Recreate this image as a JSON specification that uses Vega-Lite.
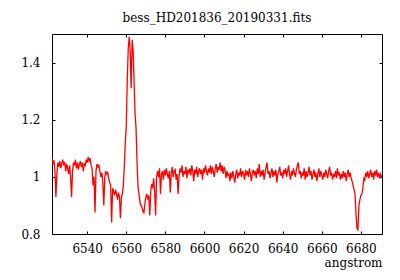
{
  "$schema": "https://vega.github.io/schema/vega-lite/v6.json",
  "width": 330,
  "height": 200,
  "autosize": {"type": "none"},
  "padding": {"left": 52, "top": 34, "right": 18, "bottom": 46},
  "background": "white",
  "title": {"text": "bess_HD201836_20190331.fits", "font": "DejaVu Serif", "fontSize": 12, "fontWeight": "normal", "color": "black", "offset": 9},
  "config": {
    "view": {"stroke": "black", "strokeWidth": 1},
    "axis": {"domain": false, "grid": false, "tickColor": "black", "tickSize": -3, "labelFont": "DejaVu Serif", "labelFontSize": 12, "labelColor": "black", "titleFont": "DejaVu Serif", "titleFontSize": 12, "titleFontWeight": "normal", "titleColor": "black"}
  },
  "data": {"values": [
    {"w":6522.0,"f":1.065},{"w":6522.5,"f":1.045},{"w":6523.0,"f":1.058},{"w":6523.5,"f":1.02},{"w":6524.0,"f":0.93},{"w":6524.5,"f":1.01},{"w":6525.0,"f":1.05},{"w":6525.5,"f":1.035},{"w":6526.0,"f":1.055},{"w":6526.5,"f":1.03},
    {"w":6527.0,"f":1.048},{"w":6527.5,"f":1.06},{"w":6528.0,"f":1.04},{"w":6528.5,"f":1.052},{"w":6529.0,"f":1.02},{"w":6529.5,"f":1.045},{"w":6530.0,"f":1.03},{"w":6530.5,"f":1.01},{"w":6531.0,"f":1.04},{"w":6531.5,"f":1.0},
    {"w":6532.0,"f":0.93},{"w":6532.5,"f":1.02},{"w":6533.0,"f":1.05},{"w":6533.5,"f":1.04},{"w":6534.0,"f":1.06},{"w":6534.5,"f":1.03},{"w":6535.0,"f":1.05},{"w":6535.5,"f":1.025},{"w":6536.0,"f":1.045},{"w":6536.5,"f":1.055},
    {"w":6537.0,"f":1.035},{"w":6537.5,"f":1.05},{"w":6538.0,"f":1.02},{"w":6538.5,"f":1.045},{"w":6539.0,"f":1.04},{"w":6539.5,"f":1.06},{"w":6540.0,"f":1.05},{"w":6540.5,"f":1.07},{"w":6541.0,"f":1.055},{"w":6541.5,"f":1.065},
    {"w":6542.0,"f":1.04},{"w":6542.5,"f":1.03},{"w":6543.0,"f":0.97},{"w":6543.5,"f":1.0},{"w":6544.0,"f":0.875},{"w":6544.5,"f":1.02},{"w":6545.0,"f":1.045},{"w":6545.5,"f":1.035},{"w":6546.0,"f":1.04},{"w":6546.5,"f":1.02},
    {"w":6547.0,"f":1.0},{"w":6547.5,"f":1.015},{"w":6548.0,"f":0.98},{"w":6548.5,"f":0.9},{"w":6549.0,"f":1.0},{"w":6549.5,"f":1.02},{"w":6550.0,"f":1.01},{"w":6550.5,"f":1.015},{"w":6551.0,"f":0.995},{"w":6551.5,"f":0.98},
    {"w":6552.0,"f":0.97},{"w":6552.5,"f":0.84},{"w":6553.0,"f":0.96},{"w":6553.5,"f":0.95},{"w":6554.0,"f":0.935},{"w":6554.5,"f":0.955},{"w":6555.0,"f":0.94},{"w":6555.5,"f":0.92},{"w":6556.0,"f":0.945},{"w":6556.5,"f":0.93},
    {"w":6557.0,"f":0.855},{"w":6557.5,"f":0.93},{"w":6558.0,"f":0.94},{"w":6558.5,"f":0.97},{"w":6559.0,"f":1.04},{"w":6559.5,"f":1.12},{"w":6560.0,"f":1.18},{"w":6560.5,"f":1.34},{"w":6561.0,"f":1.45},{"w":6561.5,"f":1.49},
    {"w":6562.0,"f":1.44},{"w":6562.5,"f":1.31},{"w":6563.0,"f":1.48},{"w":6563.5,"f":1.44},{"w":6564.0,"f":1.33},{"w":6564.5,"f":1.22},{"w":6565.0,"f":1.17},{"w":6565.5,"f":1.05},{"w":6566.0,"f":0.965},{"w":6566.5,"f":0.94},
    {"w":6567.0,"f":0.91},{"w":6567.5,"f":0.9},{"w":6568.0,"f":0.895},{"w":6568.5,"f":0.88},{"w":6569.0,"f":0.875},{"w":6569.5,"f":0.905},{"w":6570.0,"f":0.93},{"w":6570.5,"f":0.94},{"w":6571.0,"f":0.92},{"w":6571.5,"f":0.935},
    {"w":6572.0,"f":0.865},{"w":6572.5,"f":0.95},{"w":6573.0,"f":0.975},{"w":6573.5,"f":0.96},{"w":6574.0,"f":0.995},{"w":6574.5,"f":0.95},{"w":6575.0,"f":0.865},{"w":6575.5,"f":1.0},{"w":6576.0,"f":1.02},{"w":6576.5,"f":1.0},
    {"w":6577.0,"f":1.03},{"w":6577.5,"f":0.94},{"w":6578.0,"f":1.01},{"w":6578.5,"f":1.02},{"w":6579.0,"f":0.99},{"w":6579.5,"f":1.025},{"w":6580.0,"f":1.005},{"w":6580.5,"f":1.03},{"w":6581.0,"f":1.01},{"w":6581.5,"f":0.995},
    {"w":6582.0,"f":1.02},{"w":6582.5,"f":0.945},{"w":6583.0,"f":1.015},{"w":6583.5,"f":1.035},{"w":6584.0,"f":1.0},{"w":6584.5,"f":1.02},{"w":6585.0,"f":1.025},{"w":6585.5,"f":0.99},{"w":6586.0,"f":1.01},{"w":6586.5,"f":0.94},
    {"w":6587.0,"f":1.005},{"w":6587.5,"f":1.03},{"w":6588.0,"f":1.015},{"w":6588.5,"f":1.04},{"w":6589.0,"f":1.0},{"w":6589.5,"f":1.02},{"w":6590.0,"f":1.01},{"w":6590.5,"f":1.035},{"w":6591.0,"f":0.995},{"w":6591.5,"f":1.025},
    {"w":6592.0,"f":1.015},{"w":6592.5,"f":1.03},{"w":6593.0,"f":1.005},{"w":6593.5,"f":1.04},{"w":6594.0,"f":1.02},{"w":6594.5,"f":0.985},{"w":6595.0,"f":1.025},{"w":6595.5,"f":1.01},{"w":6596.0,"f":1.035},{"w":6596.5,"f":1.0},
    {"w":6597.0,"f":1.02},{"w":6597.5,"f":1.03},{"w":6598.0,"f":1.01},{"w":6598.5,"f":1.025},{"w":6599.0,"f":0.99},{"w":6599.5,"f":1.03},{"w":6600.0,"f":1.015},{"w":6600.5,"f":1.04},{"w":6601.0,"f":1.02},{"w":6601.5,"f":1.005},
    {"w":6602.0,"f":1.03},{"w":6602.5,"f":1.015},{"w":6603.0,"f":1.04},{"w":6603.5,"f":1.01},{"w":6604.0,"f":1.035},{"w":6604.5,"f":1.02},{"w":6605.0,"f":1.0},{"w":6605.5,"f":1.03},{"w":6606.0,"f":1.045},{"w":6606.5,"f":1.015},
    {"w":6607.0,"f":1.035},{"w":6607.5,"f":1.025},{"w":6608.0,"f":1.05},{"w":6608.5,"f":1.02},{"w":6609.0,"f":1.04},{"w":6609.5,"f":1.01},{"w":6610.0,"f":1.035},{"w":6610.5,"f":1.025},{"w":6611.0,"f":0.995},{"w":6611.5,"f":1.02},
    {"w":6612.0,"f":1.005},{"w":6612.5,"f":1.01},{"w":6613.0,"f":0.985},{"w":6613.5,"f":1.015},{"w":6614.0,"f":0.995},{"w":6614.5,"f":1.02},{"w":6615.0,"f":1.0},{"w":6615.5,"f":0.98},{"w":6616.0,"f":1.01},{"w":6616.5,"f":1.025},
    {"w":6617.0,"f":0.995},{"w":6617.5,"f":1.015},{"w":6618.0,"f":1.005},{"w":6618.5,"f":1.03},{"w":6619.0,"f":1.0},{"w":6619.5,"f":1.02},{"w":6620.0,"f":1.01},{"w":6620.5,"f":0.99},{"w":6621.0,"f":1.025},{"w":6621.5,"f":1.005},
    {"w":6622.0,"f":1.02},{"w":6622.5,"f":1.0},{"w":6623.0,"f":1.03},{"w":6623.5,"f":1.01},{"w":6624.0,"f":0.985},{"w":6624.5,"f":1.015},{"w":6625.0,"f":1.025},{"w":6625.5,"f":1.005},{"w":6626.0,"f":1.02},{"w":6626.5,"f":0.995},
    {"w":6627.0,"f":1.03},{"w":6627.5,"f":1.01},{"w":6628.0,"f":1.045},{"w":6628.5,"f":1.0},{"w":6629.0,"f":1.02},{"w":6629.5,"f":1.005},{"w":6630.0,"f":1.025},{"w":6630.5,"f":0.99},{"w":6631.0,"f":1.015},{"w":6631.5,"f":1.035},
    {"w":6632.0,"f":1.05},{"w":6632.5,"f":1.01},{"w":6633.0,"f":1.02},{"w":6633.5,"f":0.995},{"w":6634.0,"f":1.015},{"w":6634.5,"f":1.03},{"w":6635.0,"f":1.0},{"w":6635.5,"f":1.02},{"w":6636.0,"f":1.005},{"w":6636.5,"f":1.025},
    {"w":6637.0,"f":0.98},{"w":6637.5,"f":1.01},{"w":6638.0,"f":1.02},{"w":6638.5,"f":1.035},{"w":6639.0,"f":1.005},{"w":6639.5,"f":1.015},{"w":6640.0,"f":0.995},{"w":6640.5,"f":1.025},{"w":6641.0,"f":1.01},{"w":6641.5,"f":1.03},
    {"w":6642.0,"f":1.0},{"w":6642.5,"f":1.02},{"w":6643.0,"f":1.04},{"w":6643.5,"f":1.01},{"w":6644.0,"f":0.99},{"w":6644.5,"f":1.02},{"w":6645.0,"f":1.005},{"w":6645.5,"f":1.03},{"w":6646.0,"f":1.015},{"w":6646.5,"f":1.0},
    {"w":6647.0,"f":1.025},{"w":6647.5,"f":1.04},{"w":6648.0,"f":1.05},{"w":6648.5,"f":1.01},{"w":6649.0,"f":1.02},{"w":6649.5,"f":0.995},{"w":6650.0,"f":1.015},{"w":6650.5,"f":1.005},{"w":6651.0,"f":1.03},{"w":6651.5,"f":0.99},
    {"w":6652.0,"f":1.02},{"w":6652.5,"f":1.0},{"w":6653.0,"f":1.015},{"w":6653.5,"f":1.035},{"w":6654.0,"f":1.005},{"w":6654.5,"f":1.02},{"w":6655.0,"f":0.99},{"w":6655.5,"f":1.01},{"w":6656.0,"f":1.025},{"w":6656.5,"f":1.0},
    {"w":6657.0,"f":1.015},{"w":6657.5,"f":0.985},{"w":6658.0,"f":1.01},{"w":6658.5,"f":1.03},{"w":6659.0,"f":1.0},{"w":6659.5,"f":1.02},{"w":6660.0,"f":1.005},{"w":6660.5,"f":0.99},{"w":6661.0,"f":1.015},{"w":6661.5,"f":1.0},
    {"w":6662.0,"f":1.025},{"w":6662.5,"f":1.01},{"w":6663.0,"f":0.995},{"w":6663.5,"f":1.02},{"w":6664.0,"f":1.035},{"w":6664.5,"f":1.005},{"w":6665.0,"f":1.015},{"w":6665.5,"f":0.99},{"w":6666.0,"f":1.01},{"w":6666.5,"f":1.0},
    {"w":6667.0,"f":1.02},{"w":6667.5,"f":0.995},{"w":6668.0,"f":1.03},{"w":6668.5,"f":1.005},{"w":6669.0,"f":1.015},{"w":6669.5,"f":0.99},{"w":6670.0,"f":1.01},{"w":6670.5,"f":0.995},{"w":6671.0,"f":1.02},{"w":6671.5,"f":1.0},
    {"w":6672.0,"f":1.015},{"w":6672.5,"f":0.985},{"w":6673.0,"f":1.01},{"w":6673.5,"f":1.025},{"w":6674.0,"f":1.0},{"w":6674.5,"f":1.015},{"w":6675.0,"f":0.995},{"w":6675.5,"f":0.985},{"w":6676.0,"f":0.97},{"w":6676.5,"f":0.955},
    {"w":6677.0,"f":0.94},{"w":6677.5,"f":0.87},{"w":6678.0,"f":0.82},{"w":6678.5,"f":0.815},{"w":6679.0,"f":0.9},{"w":6679.5,"f":0.92},{"w":6680.0,"f":0.935},{"w":6680.5,"f":0.94},{"w":6681.0,"f":0.96},{"w":6681.5,"f":0.995},
    {"w":6682.0,"f":0.99},{"w":6682.5,"f":1.015},{"w":6683.0,"f":1.0},{"w":6683.5,"f":1.02},{"w":6684.0,"f":0.995},{"w":6684.5,"f":1.01},{"w":6685.0,"f":1.025},{"w":6685.5,"f":1.0},{"w":6686.0,"f":1.015},{"w":6686.5,"f":0.99},
    {"w":6687.0,"f":1.02},{"w":6687.5,"f":1.005},{"w":6688.0,"f":1.025},{"w":6688.5,"f":1.0},{"w":6689.0,"f":1.015},{"w":6689.5,"f":0.995},{"w":6690.0,"f":1.01},{"w":6690.5,"f":1.0},{"w":6690.8,"f":1.005}
  ]},
  "layer": [
    {
      "mark": {"type": "line", "color": "#ff0000", "strokeWidth": 1.3, "clip": true},
      "encoding": {
        "x": {"field": "w", "type": "quantitative", "scale": {"domain": [6522, 6690.8], "nice": false, "zero": false},
              "axis": {"orient": "bottom", "values": [6540, 6560, 6580, 6600, 6620, 6640, 6660, 6680], "format": "d", "labelPadding": 12, "title": "angstrom", "titleAnchor": "end", "titleAlign": "right", "titlePadding": 3}},
        "y": {"field": "f", "type": "quantitative", "scale": {"domain": [0.8, 1.5], "nice": false, "zero": false},
              "axis": {"orient": "left", "values": [0.8, 1, 1.2, 1.4], "format": ".1~f", "labelPadding": 15, "title": null}}
      }
    },
    {
      "mark": {"type": "line", "opacity": 0},
      "encoding": {
        "x": {"field": "w", "type": "quantitative", "axis": {"orient": "top", "values": [6540, 6560, 6580, 6600, 6620, 6640, 6660, 6680], "labels": false, "title": null}},
        "y": {"field": "f", "type": "quantitative", "axis": {"orient": "right", "values": [0.8, 1, 1.2, 1.4], "labels": false, "title": null}}
      }
    }
  ],
  "resolve": {"axis": {"x": "independent", "y": "independent"}}
}
